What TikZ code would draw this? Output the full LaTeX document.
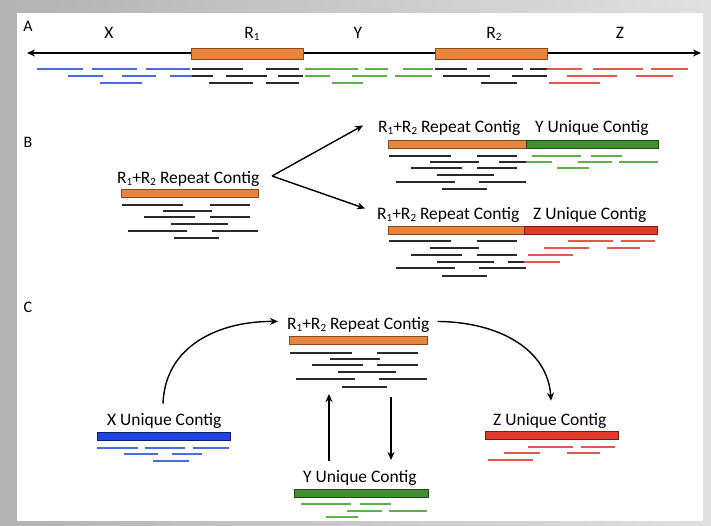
\documentclass[tikz,border=0pt]{standalone}
\usepackage{fontspec}
\setmainfont{Carlito}
\usetikzlibrary{arrows.meta}

\definecolor{orF}{HTML}{E8843C}
\definecolor{orD}{HTML}{8A4A1A}
\definecolor{grF}{HTML}{3F8F2F}
\definecolor{grD}{HTML}{1F4A17}
\definecolor{rdF}{HTML}{E03A2A}
\definecolor{rdD}{HTML}{7A1A10}
\definecolor{blF}{HTML}{1F45E0}
\definecolor{blD}{HTML}{10207A}
\definecolor{rK}{HTML}{2A2A2A}
\definecolor{rB}{HTML}{4A6AE8}
\definecolor{rG}{HTML}{62B04A}
\definecolor{rR}{HTML}{E8554F}

\newcommand\rsub[1]{\raisebox{-0.35ex}{\fontsize{11}{11}\selectfont #1}}
\newcommand\rrtext{R\rsub{1}+R\rsub{2} Repeat Contig}

\begin{document}
\begin{tikzpicture}[x=1pt,y=-1pt,
  txt/.style={inner sep=0pt,anchor=base west,font=\fontsize{17.5}{20}\selectfont},
  ctxt/.style={inner sep=0pt,anchor=base,font=\fontsize{17.5}{20}\selectfont},
  panel/.style={inner sep=0pt,anchor=base,font=\fontsize{16}{18}\selectfont},
  bar/.style 2 args={draw=#2,fill=#1,line width=0.8pt,inner sep=0pt,minimum height=8pt},
  readK/.style={rK,line width=2.2pt},
  readB/.style={rB,line width=2.2pt},
  readG/.style={rG,line width=2.2pt},
  readR/.style={rR,line width=2.2pt},
  arr/.style={line width=1.4pt,-{Stealth[length=8pt,width=7pt]}},
]
\useasboundingbox (0,0) rectangle (711,525);

% frame and white panel
\shade[left color=black!30,right color=black!12] (0,0) rectangle (711,525);
\fill[white] (17,13) rectangle (703,521);

% ---------------- Panel A: genome with repeats ----------------
\node[panel] (la) at (28,31) {A};
\coordinate (axL) at (27,53);
\coordinate (axR) at (701,53);
\draw[line width=1.4pt,{Stealth[length=8pt,width=7pt]}-{Stealth[length=8pt,width=7pt]}] (axL) -- (axR);
\node[bar={orF}{orD},minimum width=112pt,minimum height=11pt] (r1bar) at (247,53.5) {};
\node[bar={orF}{orD},minimum width=112pt,minimum height=11pt] (r2bar) at (491,53.5) {};
\node[ctxt] (lx) at (109,38) {X};
\node[ctxt] (lr1) at (252,38) {R\rsub{1}};
\node[ctxt] (ly) at (358,38) {Y};
\node[ctxt] (lr2) at (494,38) {R\rsub{2}};
\node[ctxt] (lz) at (620,38) {Z};

\foreach \y/\a/\b in {69/37/83,69/92/137,69/146/190,76/68/103,76/122/156,76/170/192,83/100/142}
  \draw[readB] (\a,\y) -- (\b,\y);
\foreach \y/\a/\b in {69/192/243,69/266/299,76/192/213,76/226/267,76/278/303,83/209/253,83/266/299,
                      69/435/467,69/477/523,69/530/547,76/443/490,76/512/547,83/481/517}
  \draw[readK] (\a,\y) -- (\b,\y);
\foreach \y/\a/\b in {69/305/358,69/365/388,69/403/433,76/305/330,76/352/387,76/395/432,83/332/363}
  \draw[readG] (\a,\y) -- (\b,\y);
\foreach \y/\a/\b in {69/547/582,69/593/643,69/651/688,76/567/617,76/636/673,83/549/600}
  \draw[readR] (\a,\y) -- (\b,\y);

% ---------------- Panel B: extending the repeat contig ----------------
\node[panel] (lb) at (28,147) {B};
\node[txt] (rb) at (117,183) {\rrtext};
\node[bar={orF}{orD},minimum width=137pt] (rbbar) at (189.5,193) {};
\foreach \y/\a/\b in {205/122/183,205/210/250,211/163/212,217/144/195,217/210/250,
                      224/171/228,231/128/187,231/212/258,238/174/219}
  \draw[readK] (\a,\y) -- (\b,\y);

\node[txt] (rbu) at (378,132) {\rrtext};
\node[txt] (ybu) at (535,132) {Y Unique Contig};
\node[bar={orF}{orD},minimum width=138pt] (rbubar) at (457,144) {};
\node[bar={grF}{grD},minimum width=132pt] (ybubar) at (592,144) {};
\foreach \y/\a/\b in {156/389/451,156/477/517,162/430/479,162/499/526,168/411/462,168/477/517,
                      175/437/494,182/396/455,182/479/526,189/442/487}
  \draw[readK] (\a,\y) -- (\b,\y);
\foreach \y/\a/\b in {156/532/581,156/591/622,162/526/552,162/578/612,162/619/658,168/557/589}
  \draw[readG] (\a,\y) -- (\b,\y);

\node[txt] (rbl) at (377,219) {\rrtext};
\node[txt] (zbl) at (533,219) {Z Unique Contig};
\node[bar={orF}{orD},minimum width=136pt] (rblbar) at (456,230.5) {};
\node[bar={rdF}{rdD},minimum width=133pt] (zblbar) at (590.5,230.5) {};
\foreach \y/\a/\b in {241/389/451,241/477/517,248/430/479,255/411/462,255/477/517,
                      262/437/494,262/508/524,268/396/455,268/479/526,276/442/487}
  \draw[readK] (\a,\y) -- (\b,\y);
\foreach \y/\a/\b in {241/568/613,241/621/655,248/544/589,248/607/640,255/528/573,262/524/560}
  \draw[readR] (\a,\y) -- (\b,\y);

\coordinate (bv) at (272,176);
\draw[arr] (bv) -- ([xshift=-15pt,yshift=2pt]rbu.west);
\draw[arr] (bv) -- ([xshift=-12pt,yshift=6pt]rbl.west);

% ---------------- Panel C: linking unique contigs ----------------
\node[panel] (lc) at (28,312) {C};
\node[txt] (rc) at (287,329) {\rrtext};
\node[bar={orF}{orD},minimum width=138pt] (rcbar) at (358,340.5) {};
\foreach \y/\a/\b in {353/290/352,353/377/418,359/330/380,365/312/363,365/377/418,
                      372/338/396,379/296/355,379/379/427,387/342/387}
  \draw[readK] (\a,\y) -- (\b,\y);

\node[txt] (xc) at (107,425) {X Unique Contig};
\node[bar={blF}{blD},minimum width=133pt] (xcbar) at (163.5,436) {};
\foreach \y/\a/\b in {448/97/138,448/145/185,448/193/229,454/124/158,454/172/202,461/153/189}
  \draw[readB] (\a,\y) -- (\b,\y);

\node[txt] (zc) at (493,425) {Z Unique Contig};
\node[bar={rdF}{rdD},minimum width=133pt] (zcbar) at (551.5,435.5) {};
\foreach \y/\a/\b in {447/528/573,447/581/615,453/504/540,453/567/600,460/488/533}
  \draw[readR] (\a,\y) -- (\b,\y);

\node[txt] (yc) at (303,482) {Y Unique Contig};
\node[bar={grF}{grD},minimum width=134pt] (ycbar) at (361,493) {};
\foreach \y/\a/\b in {504/301/351,504/360/391,511/347/382,511/389/427,517/326/358}
  \draw[readG] (\a,\y) -- (\b,\y);

% connectors between contigs
\coordinate (upS) at (329,461);
\coordinate (upE) at (329,394);
\coordinate (dnS) at (391,397);
\coordinate (dnE) at (391,460);
\draw[arr] (upS) -- (upE);
\draw[arr] (dnS) -- (dnE);
\draw[arr] ([xshift=56pt,yshift=9pt]xc.north west) .. controls (165,345) and (220,321) .. ([xshift=-9pt,yshift=3pt]rc.west);
\draw[arr] ([xshift=8pt,yshift=3pt]rc.east) .. controls (500,322) and (548,350) .. ([xshift=58pt,yshift=12pt]zc.north west);
\end{tikzpicture}
\end{document}
